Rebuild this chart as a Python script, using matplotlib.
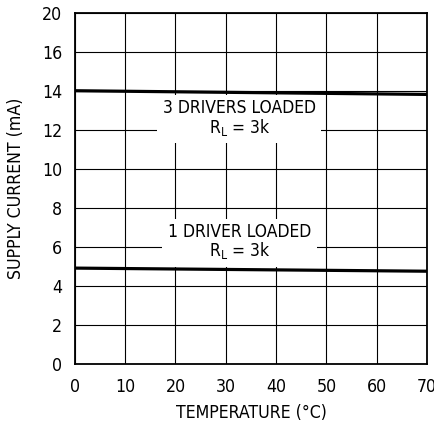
import matplotlib
matplotlib.use('Agg')
import matplotlib.pyplot as plt

plt.rcParams['font.family'] = ['DejaVu Sans']
plt.rcParams['font.stretch'] = 'condensed'
plt.rcParams['mathtext.fontset'] = 'custom'
plt.rcParams['mathtext.rm'] = 'DejaVu Sans:stretch=condensed'

# 数据
temperature = [0, 70]
current_3_drivers = [14.02, 13.83]
current_1_driver = [4.92, 4.76]

x_ticks = [0, 10, 20, 30, 40, 50, 60, 70]
y_ticks = [0, 2, 4, 6, 8, 10, 12, 14, 16, 18]
y_tick_labels = ['0', '2', '4', '6', '8', '10', '12', '14', '16', '20']

fs = 12.7

fig = plt.figure(figsize=(4.35, 4.24), dpi=100)
ax = fig.add_axes([0.172, 0.1415, 0.81, 0.8275])

ax.plot(temperature, current_3_drivers, color='black', linewidth=2.3, zorder=3)
ax.plot(temperature, current_1_driver, color='black', linewidth=2.3, zorder=3)

ax.set_xlim(0, 70)
ax.set_ylim(0, 18)
ax.set_xticks(x_ticks)
ax.set_yticks(y_ticks)
ax.set_yticklabels(y_tick_labels)
ax.tick_params(axis='x', length=0, labelsize=fs, pad=10)
ax.tick_params(axis='y', length=0, labelsize=fs, pad=9)
ax.grid(True, color='black', linewidth=0.8)
ax.set_axisbelow(True)
for s in ax.spines.values():
    s.set_linewidth(1.3)

ax.set_xlabel('TEMPERATURE (°C)', fontsize=fs, labelpad=5.5)
ax.set_ylabel('SUPPLY CURRENT (mA)', fontsize=fs, labelpad=12)

# 标注文字（白底遮挡网格线）
box = dict(facecolor='white', edgecolor='none', pad=4)
ax.text(32.7, 12.59, '3 DRIVERS LOADED\n$\\mathregular{R_L}$ = 3k', ha='center', va='center',
        fontsize=12.5, linespacing=0.95, bbox=box, zorder=2)
ax.text(32.7, 6.24, '1 DRIVER LOADED\n$\\mathregular{R_L}$ = 3k', ha='center', va='center',
        fontsize=12.5, linespacing=0.95, bbox=box, zorder=2)

fig.savefig('out.png', dpi=100)
